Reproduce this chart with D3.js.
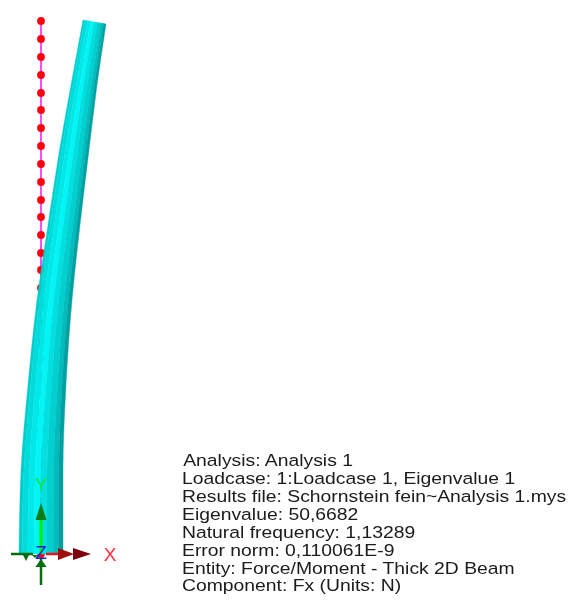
<!DOCTYPE html>
<html><head><meta charset="utf-8">
<script src="https://cdn.jsdelivr.net/npm/d3@7"></script>
<style>html,body{margin:0;padding:0;background:#fff}svg{display:block}</style></head>
<body><svg id="c" width="572" height="607"></svg>
<script>
// Model units: height above the base, offset from the support axis
const stations  = [0, 84, 169, 254, 329, 404, 469, 534];
const leftEdge  = [-22, -20, -13, -4, 7, 18.5, 30, 42];
const rightEdge = [22, 22, 25, 31, 39, 48, 56, 65];
const topSlant  = [0, 0, 0, 0, 0, 0, 0, 4];
const bandStops  = [0, 0.07, 0.2, 0.34, 0.48, 0.62, 0.78, 0.9, 1];
const bandColors = ["#00cccc", "#00dcdc", "#00e8e8", "#00f6f6", "#00e0e0", "#00d0d0", "#00bcbc", "#00a0a0"];
const nodeHeights = [533, 515, 497, 479, 461, 444, 426, 408, 390, 372, 354, 337, 319, 301, 284, 266, 248, 230, 213, 195, 177, 159, 141, 124, 106, 88, 70, 53, 35, 17, 0];
const infoLines = ["Analysis: Analysis 1", "Loadcase: 1:Loadcase 1, Eigenvalue 1", "Results file: Schornstein fein~Analysis 1.mys", "Eigenvalue: 50,6682", "Natural frequency: 1,13289", "Error norm: 0,110061E-9", "Entity: Force/Moment - Thick 2D Beam", "Component: Fx (Units: N)"];
const infoIndent = [1, 0, 0, 0, 0, 0, 0, 0];
const axisLabels = ["X", "Y", "Z"];

const svg = d3.select("#c");
const W = 572, H = 607;
const defs = svg.append("defs");
defs.append("filter").attr("id", "blur").append("feGaussianBlur").attr("stdDeviation", 0.6);
defs.append("filter").attr("id", "tblur").append("feGaussianBlur").attr("stdDeviation", 0.4);

const x = d3.scaleLinear().domain([-41, 531]).range([0, W]);
const y = d3.scaleLinear().domain([0, 554]).range([554, 0]);
const fy = d3.scaleLinear().domain([0, 7]).range([466.5, 591.5]);

const g = svg.append("g").attr("filter", "url(#blur)");

// constraint line and nodes behind the beam
g.append("line").attr("x1", x(0)).attr("x2", x(0)).attr("y1", y(533)).attr("y2", y(0))
  .attr("stroke", "#ff10ff").attr("stroke-width", 1.5);
g.selectAll("circle.node").data(nodeHeights).join("circle").attr("class", "node")
  .attr("cx", x(0)).attr("cy", d => y(d)).attr("r", 3.9).attr("fill", "#ff0010");

// beam bands
const rows = stations.map((s, i) => ({s, l: leftEdge[i], r: rightEdge[i], t: topSlant[i]}));
bandColors.forEach((col, i) => {
  const a = bandStops[i], b = bandStops[i + 1];
  const area = d3.area()
    .x0(d => x(d.l + (d.r - d.l) * a)).y0(d => y(d.s - d.t * a))
    .x1(d => x(d.l + (d.r - d.l) * b)).y1(d => y(d.s - d.t * b))
    .curve(d3.curveMonotoneY);
  g.append("path").datum(rows).attr("d", area).attr("fill", col).attr("stroke", col).attr("stroke-width", 0.4);
});

// triad
const dk = "#006e10", dr = "#7a0008";
function seg(a, b, c, d, col, w) {
  g.append("line").attr("x1", x(a)).attr("x2", x(c)).attr("y1", y(b)).attr("y2", y(d)).attr("stroke", col).attr("stroke-width", w);
}
function tri(pts, col) {
  g.append("polygon").attr("points", pts.map(p => [x(p[0]), y(p[1])].join(",")).join(" ")).attr("fill", col);
}
seg(0, 0, 0, 36, "#00f000", 3);
tri([[0, 51], [-5.5, 34], [5.5, 34]], "#0a7c12");
seg(-30, 0, -8, 0, dk, 2.5);
seg(0, -5, 0, -31, dk, 2.5);
tri([[0, -5], [-5.5, -13], [5.5, -13]], dk);
tri([[-18, -1], [-12, -1], [-15, -7]], dk);
tri([[-9, -1], [-3, -1], [-6, -4]], dk);
seg(5, 0, 20, 0, "#f01020", 2.5);
tri([[33, 0], [17, 6], [17, -6]], "#a00810");
tri([[50, 0], [32, 6], [32, -6]], dr);

const lab = svg.append("g").attr("filter", "url(#tblur)").attr("font-family", "'Liberation Sans',Arial,sans-serif").attr("text-anchor", "middle").attr("font-size", 19);
const labPos = [[69, 0, "#ff3040"], [0, 70, "#20e040"], [0, 2, "#1020e0"]];
lab.selectAll("text").data(axisLabels).join("text")
  .attr("x", (d, i) => x(labPos[i][0])).attr("y", (d, i) => y(labPos[i][1]) + 7)
  .attr("fill", (d, i) => labPos[i][2]).text(d => d);

// horizontally stretched info block
const sx = 1.187;
svg.append("g").attr("filter", "url(#tblur)").attr("transform", `translate(182,0) scale(${sx},1)`)
  .selectAll("text").data(infoLines).join("text")
  .attr("x", (d, i) => infoIndent[i]).attr("y", (d, i) => fy(i))
  .attr("font-family", "'Liberation Sans',Arial,sans-serif").attr("font-size", 16.3).attr("fill", "#1a1a1a").text(d => d);
</script></body></html>
